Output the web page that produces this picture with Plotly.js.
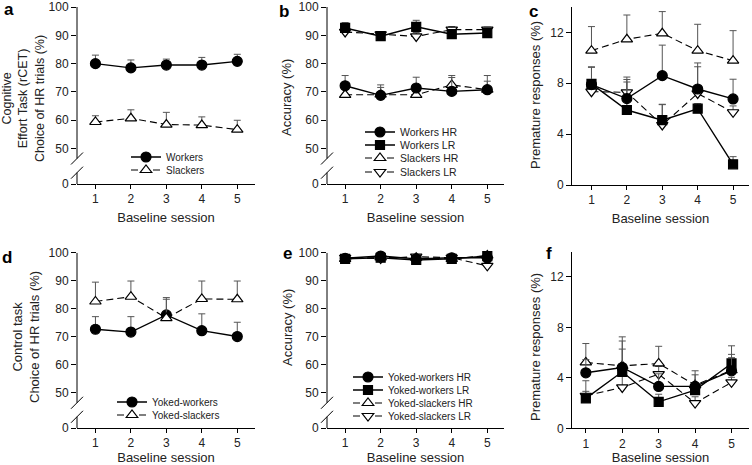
<!DOCTYPE html>
<html><head><meta charset="utf-8">
<script src="https://cdn.plot.ly/plotly-3.0.1.min.js"></script>
<style>html,body{margin:0;padding:0;background:#fff}#chart{width:752px;height:465px}</style>
</head><body><div id="chart"></div>
<script>
// ---------------- data ----------------
const sessions = [1, 2, 3, 4, 5];
const tickSessions = ['1', '2', '3', '4', '5'];

// a: rCET choice of HR trials (%)
const aWorkers = [80.0, 78.5, 79.5, 79.5, 80.8];
const aWorkersErr = [3.0, 2.8, 2.1, 2.7, 2.5];
const aSlackers = [59.4, 60.7, 58.5, 58.3, 56.7];
const aSlackersErr = [2.2, 3.0, 4.3, 2.9, 3.3];

// b: rCET accuracy (%)
const bWorkersHR = [72.2, 68.8, 71.4, 70.2, 70.8];
const bWorkersHRErr = [3.6, 3.7, 3.8, 4.9, 5.0];
const bWorkersLR = [92.6, 89.7, 93.0, 90.4, 90.8];
const bWorkersLRErr = [1.9, 1.2, 2.3, 1.0, 1.0];
const bSlackersHR = [69.0, 69.1, 69.0, 72.5, 70.8];
const bSlackersHRErr = [2.0, 2.5, 2.5, 3.3, 3.0];
const bSlackersLR = [91.2, 90.3, 89.6, 92.0, 92.0];
const bSlackersLRErr = [1.2, 1.0, 1.4, 1.1, 0.9];

// c: rCET premature responses (%)
const cWorkersHR = [7.9, 6.8, 8.6, 7.55, 6.77];
const cWorkersHRErr = [1.4, 1.5, 2.4, 2.05, 1.55];
const cWorkersLR = [7.95, 5.9, 5.1, 6.0, 1.63];
const cWorkersLRErr = [1.3, 2.2, 1.25, 0.4, 0.6];
const cSlackersHR = [10.57, 11.46, 11.93, 10.57, 9.78];
const cSlackersHRErr = [1.89, 1.91, 1.71, 2.07, 2.36];
const cSlackersLR = [7.34, 7.29, 4.72, 7.2, 5.72];
const cSlackersLRErr = [0.9, 1.2, 1.6, 2.1, 0.5];

// d: control task choice of HR trials (%)
const dYokedWorkers = [72.7, 71.7, 77.8, 72.2, 70.1];
const dYokedWorkersErr = [4.5, 5.5, 6.2, 6.0, 5.1];
const dYokedSlackers = [82.6, 84.3, 76.7, 83.5, 83.4];
const dYokedSlackersErr = [6.9, 5.6, 6.7, 6.4, 6.5];

// e: control task accuracy (%)
const eWorkersHR = [98.0, 98.8, 97.8, 98.2, 98.2];
const eWorkersHRErr = [0.6, 0.5, 0.7, 0.5, 0.6];
const eWorkersLR = [97.8, 98.2, 97.4, 97.8, 98.8];
const eWorkersLRErr = [0.7, 0.6, 0.8, 0.6, 0.5];
const eSlackersHR = [97.8, 98.3, 98.2, 97.8, 99.0];
const eSlackersHRErr = [0.8, 0.6, 0.6, 0.7, 0.5];
const eSlackersLR = [98.2, 97.9, 98.6, 98.2, 95.3];
const eSlackersLRErr = [0.6, 0.7, 0.5, 0.6, 1.2];

// f: control task premature responses (%)
const fWorkersHR = [4.4, 4.82, 3.32, 3.32, 4.56];
const fWorkersHRErr = [1.05, 2.1, 1.0, 0.92, 1.3];
const fWorkersLR = [2.37, 4.48, 2.1, 3.03, 5.14];
const fWorkersLRErr = [1.4, 1.8, 0.6, 0.5, 1.4];
const fSlackersHR = [5.22, 4.95, 5.14, 3.43, 4.6];
const fSlackersHRErr = [1.5, 2.3, 1.36, 1.13, 1.0];
const fSlackersLR = [2.58, 3.24, 4.3, 2.0, 3.64];
const fSlackersLRErr = [0.35, 1.0, 0.6, 0.5, 0.4];

// broken-axis tick labels (value 37.5 stands at the "0" of the broken axis)
const brokenTickVals = [37.5, 50, 60, 70, 80, 90, 100];
const brokenTickText = ['0', '50', '60', '70', '80', '90', '100'];
const premTickVals = [0, 4, 8, 12];
const premTickText = ['0', '4', '8', '12'];

// ---------------- layout helpers ----------------
const W = 752, H = 465;
const FONT = '"Liberation Sans", Arial, sans-serif';
const TXT = '#222';
const px = p => p / W;
const py = p => 1 - p / H;

const styles = {
  wHR: {symbol: 'circle', size: 10, fill: '#000', dash: 'solid', lw: 1.4},
  wLR: {symbol: 'square', size: 9, fill: '#000', dash: 'solid', lw: 1.4},
  sHR: {symbol: 'triangle-up', size: 10, fill: '#fff', dash: '7px,4px', lw: 1.1},
  sLR: {symbol: 'triangle-down', size: 10, fill: '#fff', dash: '7px,4px', lw: 1.1}
};

function trace(ax, y, err, kind, name, legend) {
  const s = styles[kind];
  return {
    type: 'scatter', mode: 'lines+markers',
    x: sessions, y: y, name: name || '',
    xaxis: 'x' + ax, yaxis: 'y' + ax,
    line: {color: '#000', width: s.lw, dash: s.dash},
    marker: {symbol: s.symbol, size: s.size, color: s.fill, line: {color: '#000', width: 1.2}},
    error_y: {type: 'data', symmetric: false, array: err, arrayminus: sessions.map(() => 0),
              color: '#555', thickness: 1, width: 3.5},
    showlegend: !!legend, legend: legend || 'legend',
    cliponaxis: false
  };
}

const data = [
  trace('', aWorkers, aWorkersErr, 'wHR', 'Workers', 'legend'),
  trace('', aSlackers, aSlackersErr, 'sHR', 'Slackers', 'legend2'),

  trace('2', bSlackersLR, bSlackersLRErr, 'sLR', 'Slackers LR', 'legend6'),
  trace('2', bSlackersHR, bSlackersHRErr, 'sHR', 'Slackers HR', 'legend5'),
  trace('2', bWorkersLR, bWorkersLRErr, 'wLR', 'Workers LR', 'legend4'),
  trace('2', bWorkersHR, bWorkersHRErr, 'wHR', 'Workers HR', 'legend3'),

  trace('3', cSlackersHR, cSlackersHRErr, 'sHR'),
  trace('3', cSlackersLR, cSlackersLRErr, 'sLR'),
  trace('3', cWorkersLR, cWorkersLRErr, 'wLR'),
  trace('3', cWorkersHR, cWorkersHRErr, 'wHR'),

  trace('4', dYokedWorkers, dYokedWorkersErr, 'wHR', 'Yoked-workers', 'legend7'),
  trace('4', dYokedSlackers, dYokedSlackersErr, 'sHR', 'Yoked-slackers', 'legend8'),

  trace('5', eSlackersLR, eSlackersLRErr, 'sLR', 'Yoked-slackers LR', 'legend12'),
  trace('5', eSlackersHR, eSlackersHRErr, 'sHR', 'Yoked-slackers HR', 'legend11'),
  trace('5', eWorkersLR, eWorkersLRErr, 'wLR', 'Yoked-workers LR', 'legend10'),
  trace('5', eWorkersHR, eWorkersHRErr, 'wHR', 'Yoked-workers HR', 'legend9'),

  trace('6', fSlackersLR, fSlackersLRErr, 'sLR'),
  trace('6', fSlackersHR, fSlackersHRErr, 'sHR'),
  trace('6', fWorkersLR, fWorkersLRErr, 'wLR'),
  trace('6', fWorkersHR, fWorkersHRErr, 'wHR')
];

// panel geometry in pixels
const panels = {
  '':  {l: 77,  r: 255, t: 7,     b: 184, xr: [0.48, 5.5],  broken: true},
  '2': {l: 327, r: 504, t: 7,     b: 184, xr: [0.49, 5.47], broken: true},
  '3': {l: 572, r: 749, t: 7,     b: 185, xr: [0.45, 5.45], broken: false},
  '4': {l: 77,  r: 255, t: 252.7, b: 428, xr: [0.48, 5.5],  broken: true},
  '5': {l: 327, r: 504, t: 252.7, b: 428, xr: [0.49, 5.47], broken: true},
  '6': {l: 572, r: 749, t: 251.7, b: 428.3, xr: [0.62, 5.48], broken: false}
};

const layout = {
  width: W, height: H,
  margin: {l: 0, r: 0, t: 0, b: 0},
  paper_bgcolor: '#fff', plot_bgcolor: '#fff',
  font: {family: FONT, color: TXT, size: 12},
  showlegend: true,
  shapes: [], annotations: []
};

Object.keys(panels).forEach(k => {
  const p = panels[k];
  layout['xaxis' + k] = {
    domain: [px(p.l), px(p.r)], anchor: 'y' + k, range: p.xr,
    tickvals: sessions, ticktext: tickSessions,
    ticks: 'outside', ticklen: 4, tickcolor: '#000', showgrid: false, zeroline: false,
    showline: true, linecolor: '#000', linewidth: 1,
    tickfont: {size: 12, family: FONT, color: TXT},
    title: {text: 'Baseline session', font: {size: 13, family: FONT, color: TXT}, standoff: 7}
  };
  const ya = {
    domain: [py(p.b), py(p.t)], anchor: 'x' + k,
    ticks: 'outside', ticklen: 5, tickcolor: '#000', showgrid: false, zeroline: false,
    tickfont: {size: 12, family: FONT, color: TXT}
  };
  if (p.broken) {
    Object.assign(ya, {range: [37.5, 100], tickvals: brokenTickVals, ticktext: brokenTickText, showline: false});
    const xr = 'x' + k + ' domain', yr = 'y' + k;
    const dx = 6 / (p.r - p.l), dy = 6 * 62.5 / (p.b - p.t);
    layout.shapes.push(
      {type: 'line', xref: xr, yref: yr, x0: 0, x1: 0, y0: 100, y1: 46.5, line: {color: '#000', width: 1}},
      {type: 'line', xref: xr, yref: yr, x0: 0, x1: 0, y0: 41.5, y1: 37.5, line: {color: '#000', width: 1}},
      {type: 'line', xref: xr, yref: yr, x0: -dx, x1: dx, y0: 46.5 - dy, y1: 46.5 + dy, line: {color: '#000', width: 1}},
      {type: 'line', xref: xr, yref: yr, x0: -dx, x1: dx, y0: 41.5 - dy, y1: 41.5 + dy, line: {color: '#000', width: 1}}
    );
  } else {
    Object.assign(ya, {range: [0, 14], tickvals: premTickVals, ticktext: premTickText,
      showline: true, linecolor: '#000', linewidth: 1});
  }
  layout['yaxis' + k] = ya;
});

// y-axis titles and panel letters
function ann(text, x, y, opts) {
  layout.annotations.push(Object.assign({text: text, xref: 'paper', yref: 'paper', x: px(x), y: py(y),
    showarrow: false, xanchor: 'center', yanchor: 'middle',
    font: {size: 13, family: FONT, color: TXT}}, opts || {}));
}
ann('Cognitive<br>Effort Task (rCET)<br>Choice of HR trials (%)', 23, 99,
    {textangle: -90, font: {size: 12.5, family: FONT, color: TXT}});
ann('Accuracy (%)', 287, 98, {textangle: -90});
ann('Premature responses (%)', 535, 95, {textangle: -90});
ann('Control task<br>Choice of HR trials (%)', 26, 337, {textangle: -90});
ann('Accuracy (%)', 287, 328, {textangle: -90});
ann('Premature responses (%)', 535, 347, {textangle: -90});
const letterFont = {size: 17, family: FONT, color: '#000', weight: 'bold'};
ann('<b>a</b>', 9, 10, {font: letterFont});
ann('<b>b</b>', 284, 12, {font: letterFont});
ann('<b>c</b>', 533, 12, {font: letterFont});
ann('<b>d</b>', 7, 257, {font: letterFont});
ann('<b>e</b>', 287, 253, {font: letterFont});
ann('<b>f</b>', 549, 253, {font: letterFont});

// one legend box per entry so each line sits where it does in the figure
function legendAt(x, y, size) {
  return {x: px(x), y: py(y), xanchor: 'left', yanchor: 'middle', bgcolor: 'rgba(0,0,0,0)',
          borderwidth: 0, font: {size: size, family: FONT, color: TXT}, itemwidth: 30};
}
layout.legend = legendAt(126, 157, 10);
layout.legend2 = legendAt(126, 170, 10);
layout.legend3 = legendAt(360, 132, 10.5);
layout.legend4 = legendAt(360, 145, 10.5);
layout.legend5 = legendAt(360, 158, 10.5);
layout.legend6 = legendAt(360, 172, 10.5);
layout.legend7 = legendAt(112, 402, 10);
layout.legend8 = legendAt(112, 415, 10);
layout.legend9 = legendAt(348, 377, 10);
layout.legend10 = legendAt(348, 390, 10);
layout.legend11 = legendAt(348, 403, 10);
layout.legend12 = legendAt(348, 416, 10);

Plotly.newPlot('chart', data, layout, {staticPlot: true, displayModeBar: false});
</script></body></html>
